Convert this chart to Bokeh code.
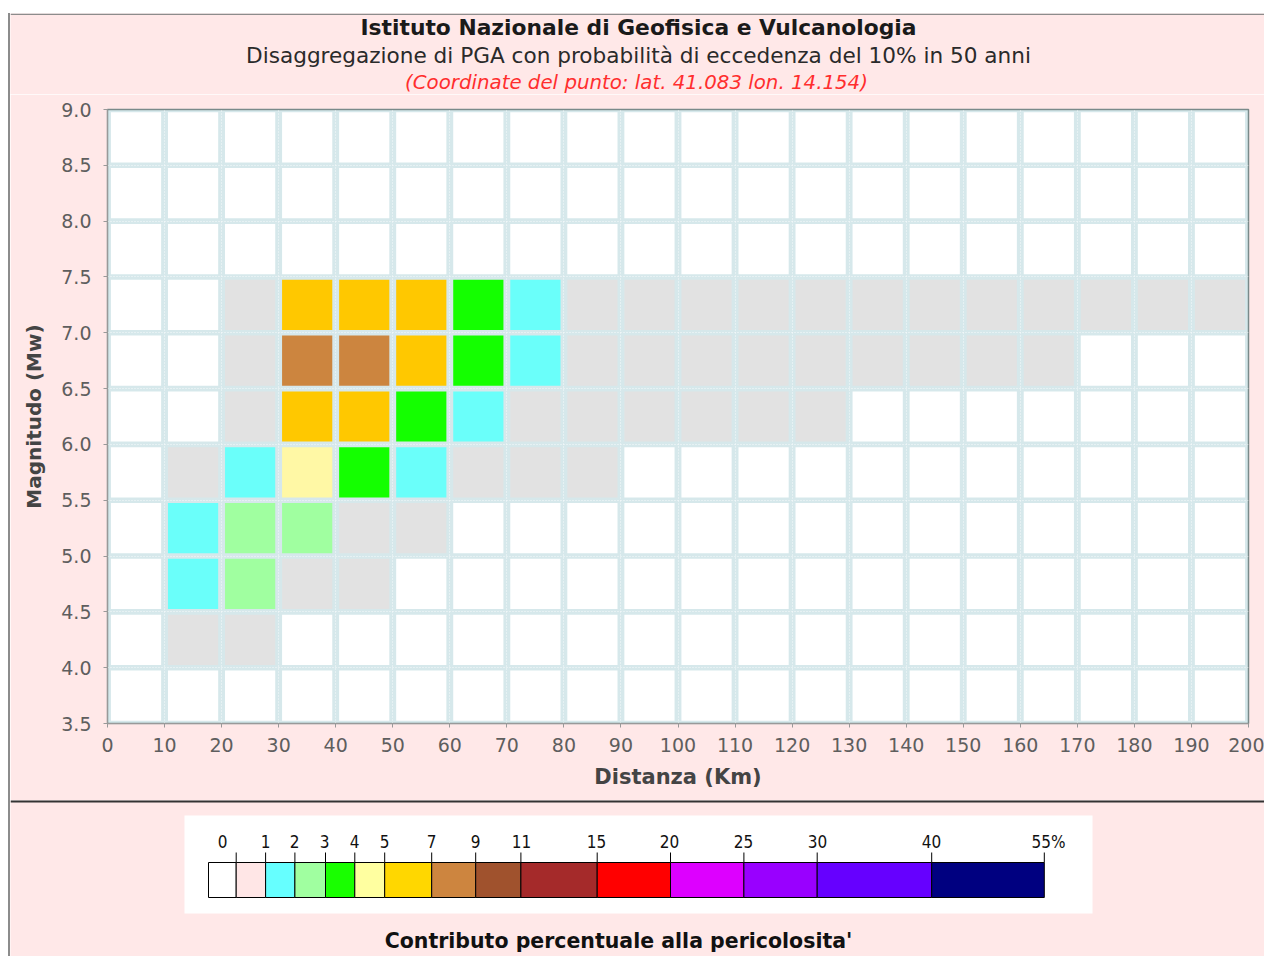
from bokeh.plotting import figure
from bokeh.models import Range1d, FixedTicker, PrintfTickFormatter, ColumnDataSource, Spacer
from bokeh.layouts import column, row
from bokeh.core.properties import value
from bokeh.embed import file_html
from bokeh.resources import INLINE
import numpy as np

# ---------------- data ----------------
distance_bins = [5, 15, 25, 35, 45, 55, 65, 75, 85, 95, 105, 115, 125, 135, 145, 155, 165, 175, 185, 195]
distance_ticks = [0, 10, 20, 30, 40, 50, 60, 70, 80, 90, 100, 110, 120, 130, 140, 150, 160, 170, 180, 190, 200]
magnitude_ticks = [3.5, 4.0, 4.5, 5.0, 5.5, 6.0, 6.5, 7.0, 7.5, 8.0, 8.5, 9.0]

# percent contribution per distance bin, one list per magnitude bin (bin centre)
mw_3_75 = [0, 0, 0, 0, 0, 0, 0, 0, 0, 0, 0, 0, 0, 0, 0, 0, 0, 0, 0, 0]
mw_4_25 = [0, 0.4, 0.3, 0, 0, 0, 0, 0, 0, 0, 0, 0, 0, 0, 0, 0, 0, 0, 0, 0]
mw_4_75 = [0, 1.4, 2.2, 0.6, 0.3, 0, 0, 0, 0, 0, 0, 0, 0, 0, 0, 0, 0, 0, 0, 0]
mw_5_25 = [0, 1.3, 2.4, 2.1, 0.8, 0.3, 0, 0, 0, 0, 0, 0, 0, 0, 0, 0, 0, 0, 0, 0]
mw_5_75 = [0, 0.7, 1.6, 4.4, 3.3, 1.5, 0.7, 0.4, 0.2, 0, 0, 0, 0, 0, 0, 0, 0, 0, 0, 0]
mw_6_25 = [0, 0, 0.8, 6.3, 6.0, 3.8, 1.8, 0.9, 0.6, 0.4, 0.3, 0.2, 0.1, 0, 0, 0, 0, 0, 0, 0]
mw_6_75 = [0, 0, 0.9, 7.6, 7.2, 5.9, 3.6, 1.9, 0.9, 0.6, 0.5, 0.4, 0.3, 0.3, 0.2, 0.1, 0.1, 0, 0, 0]
mw_7_25 = [0, 0, 0.8, 6.4, 6.7, 5.6, 3.7, 1.8, 0.9, 0.7, 0.6, 0.5, 0.4, 0.3, 0.3, 0.2, 0.2, 0.1, 0.1, 0.1]
mw_7_75 = [0, 0, 0, 0, 0, 0, 0, 0, 0, 0, 0, 0, 0, 0, 0, 0, 0, 0, 0, 0]
mw_8_25 = [0, 0, 0, 0, 0, 0, 0, 0, 0, 0, 0, 0, 0, 0, 0, 0, 0, 0, 0, 0]
mw_8_75 = [0, 0, 0, 0, 0, 0, 0, 0, 0, 0, 0, 0, 0, 0, 0, 0, 0, 0, 0, 0]

magnitude_bins = [3.75, 4.25, 4.75, 5.25, 5.75, 6.25, 6.75, 7.25, 7.75, 8.25, 8.75]
rows = [mw_3_75, mw_4_25, mw_4_75, mw_5_25, mw_5_75, mw_6_25, mw_6_75, mw_7_25, mw_7_75, mw_8_25, mw_8_75]

# legend classes (upper bounds, %)
class_bounds = [0, 1, 2, 3, 4, 5, 7, 9, 11, 15, 20, 25, 30, 40, 55]
class_labels = ["0", "1", "2", "3", "4", "5", "7", "9", "11", "15", "20", "25", "30", "40", "55%"]

title_lines = ["Istituto Nazionale di Geofisica e Vulcanologia",
               "Disaggregazione di PGA con probabilità di eccedenza del 10% in 50 anni",
               "(Coordinate del punto: lat. 41.083 lon. 14.154)"]
legend_title = "Contributo percentuale alla pericolosita'"

# ---------------- styles ----------------
legend_colors = ["#FFFFFF", "#FFE6E6", "#66FFFF", "#A0FFA0", "#19FF00", "#FFFFA0", "#FFD700", "#CD853F",
                 "#A0522D", "#A52A2A", "#FF0000", "#DD00FF", "#9900FF", "#6600FF", "#000080"]
cell_colors = ["#FFFFFF", "#E2E2E2", "#6AFFFA", "#A0FFA0", "#14FF00", "#FFF8A5", "#FFC800", "#CC853F",
               "#A0522D", "#A52A2A", "#FF0000", "#DD00FF", "#9900FF", "#6600FF", "#000080"]
legend_edges_px = [208, 235.7, 265.1, 294.4, 325, 354.3, 384.2, 431.2, 475.2, 520.4, 596.7, 670, 743.4, 816.7, 931.2, 1043.8]
legend_label_px = [222, 265, 294, 324, 354, 384, 431, 475, 521, 596, 669, 743, 817, 931, 1031]
PINK = "#FFE8E8"
BORDER = "#8C8C8C"
FONT = "DejaVu Sans"
COND = "DejaVu Sans Condensed"

# ---------------- build cells ----------------
xs, ys, vals, cols = [], [], [], []
for mw, row_vals in zip(magnitude_bins, rows):
    for d, v in zip(distance_bins, row_vals):
        xs.append(d)
        ys.append(mw)
        vals.append(v)
        idx = 0 if v <= 0 else int(np.searchsorted(class_bounds, v, side="left"))
        cols.append(cell_colors[min(idx, len(cell_colors) - 1)])
src = ColumnDataSource(dict(x=xs, y=ys, v=vals, c=cols))

# ---------------- title figure ----------------
tf = figure(width=1254, height=81, x_range=Range1d(10, 1264), y_range=Range1d(94, 13),
            output_backend="svg", toolbar_location=None, min_border=0, frame_align=False,
            background_fill_color=PINK, border_fill_color=PINK, outline_line_color=None)
tf.axis.visible = False
tf.grid.visible = False
tf.quad(left=[10], right=[1264], top=[13], bottom=[14.5], fill_color=BORDER, line_color=None)
tf.text(x=[638], y=[27], text=[title_lines[0]], text_font=value(FONT), text_font_style="bold",
        text_font_size="21.8px", text_color="#1A1A1A", text_align="center", text_baseline="middle")
tf.text(x=[638], y=[55], text=[title_lines[1]], text_font=value(FONT), text_font_size="21.6px",
        text_color="#2A2A2A", text_align="center", text_baseline="middle")
tf.text(x=[636], y=[82], text=[title_lines[2]], text_font=value(FONT), text_font_style="italic",
        text_font_size="19.8px", text_color="#FF2E2E", text_align="center", text_baseline="middle")

# ---------------- main figure ----------------
p = figure(width=1254, height=706, x_range=Range1d(0, 200), y_range=Range1d(3.5, 9.0),
           output_backend="svg", toolbar_location=None, frame_align=False,
           min_border_left=97, min_border_right=16, min_border_top=15, min_border_bottom=77,
           background_fill_color="#D6E8EB", border_fill_color=PINK,
           outline_line_color="#7A8A8A", outline_line_width=1.5)

p.rect(x="x", y="y", width=8.8, height=0.45, fill_color="c", line_color=None, source=src)

p.xgrid.ticker = FixedTicker(ticks=distance_ticks)
p.ygrid.ticker = FixedTicker(ticks=magnitude_ticks)
for g in (p.xgrid, p.ygrid):
    g.grid_line_color = "#FFFFFF"
    g.grid_line_dash = "1 2"
    g.grid_line_alpha = 0.8

p.xaxis.ticker = FixedTicker(ticks=distance_ticks)
p.yaxis.ticker = FixedTicker(ticks=magnitude_ticks)
p.yaxis.formatter = PrintfTickFormatter(format="%.1f")
for ax in (p.xaxis, p.yaxis):
    ax.axis_line_color = "#999999"
    ax.major_tick_line_color = "#999999"
    ax.minor_tick_line_color = None
    ax.major_tick_out = 4
    ax.major_tick_in = 0
    ax.major_label_text_font = FONT
    ax.major_label_text_font_size = "19px"
    ax.major_label_text_color = "#5E5E5E"
    ax.axis_label_text_font = FONT
    ax.axis_label_text_font_style = "bold"
    ax.axis_label_text_color = "#444444"
p.xaxis.axis_label_text_font_size = "21px"
p.yaxis.axis_label_text_font_size = "20px"
p.xaxis.axis_label = "Distanza (Km)"
p.yaxis.axis_label = "Magnitudo (Mw)"
p.xaxis.major_label_standoff = 10
p.yaxis.major_label_standoff = 12
p.xaxis.axis_label_standoff = 10
p.yaxis.axis_label_standoff = 12

# ---------------- legend figure ----------------
leg = figure(width=1254, height=156, x_range=Range1d(10, 1264), y_range=Range1d(956, 800),
             output_backend="svg", toolbar_location=None, min_border=0, frame_align=False,
             background_fill_color=PINK, border_fill_color=PINK, outline_line_color=None)
leg.axis.visible = False
leg.grid.visible = False

leg.quad(left=[10], right=[1264], top=[799.5], bottom=[802], fill_color="#333333", line_color=None)
leg.quad(left=[184], right=[1092], top=[815], bottom=[913], fill_color="#FFFFFF", line_color=None)

lsrc = ColumnDataSource(dict(left=legend_edges_px[:-1], right=legend_edges_px[1:], color=legend_colors))
leg.quad(left="left", right="right", top=862, bottom=897, fill_color="color", line_color="#000000",
         line_width=1, source=lsrc)
n_ticks = len(legend_edges_px) - 1
leg.segment(x0=legend_edges_px[1:], y0=[862] * n_ticks, x1=legend_edges_px[1:], y1=[852] * n_ticks,
            line_color="#000000", line_width=1)
align = ["center"] * (len(class_labels) - 1) + ["left"]
leg.text(x=legend_label_px, y=[841] * len(class_labels), text=class_labels,
         text_font=value(COND), text_font_size="17px", text_color="#111111",
         text_align=align, text_baseline="middle")
leg.text(x=[618], y=[940], text=[legend_title],
         text_font=value(FONT), text_font_style="bold", text_font_size="20.5px",
         text_color="#111111", text_align="center", text_baseline="middle")

left_border = Spacer(width=2, height=943, styles={"background-color": BORDER})
layout = row(Spacer(width=8, height=956),
             column(Spacer(width=2, height=13), left_border),
             column(Spacer(width=1254, height=13), tf, p, leg))
open("out.html", "w").write(file_html(layout, INLINE))
